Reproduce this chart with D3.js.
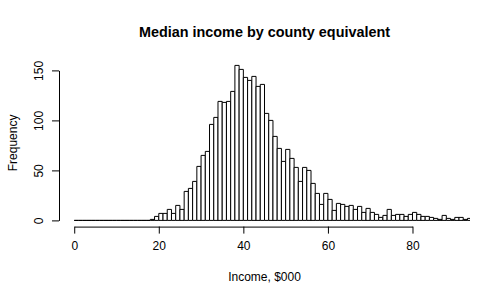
<!DOCTYPE html>
<html lang="en">
    <head>
        <meta charset="utf-8">
        <title>Median income by county equivalent</title>
        <script type="text/javascript" src="https://cdn.jsdelivr.net/npm/d3@7"></script>
        <style>
            body { margin: 0; background: #fff; }
            text { font-family: "Liberation Sans", Arial, Helvetica, sans-serif; }
        </style>
    </head>
    <body>
        <script type="text/javascript">
            // counts per $1000 bin, starting at 0
            var binStart = 0;
            var binWidth = 1;
            var counts = [
                0, 0, 0, 0, 0, 0, 0, 0, 0, 0,
                0, 0, 0, 0, 0, 0, 0, 0, 1, 4,
                7, 7, 11, 7, 15, 11, 29, 32, 39, 54,
                65, 69, 96, 103, 119, 118, 119, 129, 155, 151,
                143, 140, 144, 134, 136, 107, 100, 84, 72, 59,
                71, 62, 53, 39, 53, 50, 37, 27, 16, 27,
                21, 10, 17, 16, 14, 15, 11, 14, 8, 12,
                8, 6, 3, 5, 11, 5, 6, 6, 4, 6,
                8, 6, 4, 4, 3, 2, 1, 5, 2, 1,
                3, 3, 1, 2
            ];
            var xTicks = [0, 20, 40, 60, 80];
            var yTicks = [0, 50, 100, 150];
            var xLim = [0, 90];

            var w = 500;
            var h = 300;
            // plot region (R default margins)
            var plotLeft = 59, plotRight = 470, plotTop = 59.2, plotBottom = 226.6;

            var svg = d3.select("body")
                        .append("svg")
                        .attr("width", w)
                        .attr("height", h);

            svg.append("rect")
                .attr("width", w)
                .attr("height", h)
                .attr("fill", "#fff");

            // R pads the axis range by 4% on each side
            var xPad = (xLim[1] - xLim[0]) * 0.04;
            var xScale = d3.scaleLinear()
                            .domain([xLim[0] - xPad, xLim[1] + xPad])
                            .range([plotLeft, plotRight]);

            var yMax = d3.max(counts);
            var yScale = d3.scaleLinear()
                            .domain([-yMax * 0.04, yMax * 1.04])
                            .range([plotBottom, plotTop]);

            svg.append("clipPath")
                .attr("id", "plotclip")
                .append("rect")
                .attr("x", plotLeft)
                .attr("y", plotTop)
                .attr("width", plotRight - plotLeft)
                .attr("height", plotBottom - plotTop);

            //bars, as paths so empty bins still show a line
            svg.append("g")
                .attr("clip-path", "url(#plotclip)")
                .selectAll("path")
                .data(counts)
                .enter()
                .append("path")
                .attr("d", function(d, i) {
                    var x0 = xScale(binStart + i * binWidth);
                    var x1 = xScale(binStart + (i + 1) * binWidth);
                    var y0 = yScale(0);
                    var y1 = yScale(d);
                    return "M" + x0 + "," + y0 + "V" + y1 + "H" + x1 + "V" + y0 + "Z";
                })
                .attr("fill", "#fff")
                .attr("stroke", "#000")
                .attr("stroke-width", 1);

            //x axis, line only spans the ticks like R does
            var xAxisScale = d3.scaleLinear()
                                .domain([xTicks[0], xTicks[xTicks.length - 1]])
                                .range([xScale(xTicks[0]), xScale(xTicks[xTicks.length - 1])]);

            var xAxis = svg.append("g")
                .attr("transform", "translate(0," + plotBottom + ")")
                .call(d3.axisBottom(xAxisScale)
                        .tickValues(xTicks)
                        .tickSize(7)
                        .tickSizeOuter(0)
                        .tickPadding(8));

            xAxis.selectAll("text")
                .attr("font-size", "12px")
                .attr("fill", "#000");

            //y axis
            var yAxisScale = d3.scaleLinear()
                                .domain([yTicks[0], yTicks[yTicks.length - 1]])
                                .range([yScale(yTicks[0]), yScale(yTicks[yTicks.length - 1])]);

            var yAxis = svg.append("g")
                .attr("transform", "translate(" + plotLeft + ",0)")
                .call(d3.axisLeft(yAxisScale)
                        .tickValues(yTicks)
                        .tickSize(7)
                        .tickSizeOuter(0));

            yAxis.selectAll("text")
                .attr("transform", "rotate(-90)")
                .attr("x", 0)
                .attr("y", -16.5)
                .attr("dy", 0)
                .attr("text-anchor", "middle")
                .attr("font-size", "12px")
                .attr("fill", "#000");

            svg.selectAll(".domain, .tick line")
                .attr("stroke", "#000");

            //labels
            svg.append("text")
                .text("Median income by county equivalent")
                .attr("x", (plotLeft + plotRight) / 2)
                .attr("y", 37)
                .attr("text-anchor", "middle")
                .attr("font-size", "14.4px")
                .attr("font-weight", "bold");

            svg.append("text")
                .text("Income, $000")
                .attr("x", (plotLeft + plotRight) / 2)
                .attr("y", 281)
                .attr("text-anchor", "middle")
                .attr("font-size", "12px");

            svg.append("text")
                .text("Frequency")
                .attr("transform", "translate(17," + (plotTop + plotBottom) / 2 + ") rotate(-90)")
                .attr("text-anchor", "middle")
                .attr("font-size", "12px");
        </script>
    </body>
</html>
